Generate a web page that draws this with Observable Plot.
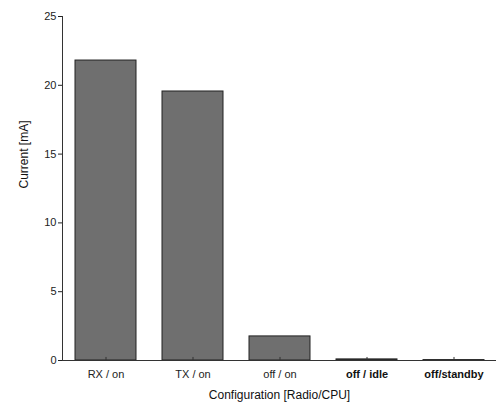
<!DOCTYPE html>
<html>
<head>
<meta charset="utf-8">
<script src="https://cdn.jsdelivr.net/npm/d3@7"></script>
<script src="https://cdn.jsdelivr.net/npm/@observablehq/plot@0.6"></script>
<style>
  body { margin: 0; background: #fff; }
  #chart svg { font-family: "Liberation Sans", Arial, Helvetica, sans-serif; }
</style>
</head>
<body>
<div id="chart"></div>
<script>
const categories = ["RX / on", "TX / on", "off / on", "off / idle", "off/standby"];
const currents = [21.8, 19.55, 1.75, 0.08, 0.03];
const yTicks = [0, 5, 10, 15, 20, 25];
const boldLabels = ["off / idle", "off/standby"];

const data = categories.map((c, i) => ({config: c, current: currents[i]}));
const normalLabels = categories.filter(c => !boldLabels.includes(c));

const plot = Plot.plot({
  width: 496,
  height: 405,
  marginLeft: 62,
  marginRight: 0,
  marginTop: 16,
  marginBottom: 45,
  style: {background: "#fff", color: "#222", fontSize: "11px"},
  x: {domain: categories, paddingInner: 0.3, paddingOuter: 0.12, label: null, axis: null},
  y: {domain: [0, 25], label: null, axis: null},
  marks: [
    Plot.barY(data, {x: "config", y: "current", fill: "#6f6f6f", stroke: "#222", strokeWidth: 1}),
    Plot.axisY({ticks: yTicks, tickSize: 4, tickPadding: 2, fontSize: 11, label: null}),
    Plot.ruleY([0], {stroke: "#333"}),
    Plot.ruleX(categories, {x: d => d, y1: 0, y2: 0.22, stroke: "#333"}),
    Plot.text(normalLabels, {x: d => d, y: 0, dy: 14, fontSize: 11, fill: "#222"}),
    Plot.text(boldLabels, {x: d => d, y: 0, dy: 14, fontSize: 11, fontWeight: "bold", fill: "#111"}),
    Plot.text(["Configuration [Radio/CPU]"], {frameAnchor: "bottom", dy: 38, fontSize: 12, fill: "#111"}),
    Plot.text(["Current [mA]"], {frameAnchor: "left", dx: -38, rotate: -90, fontSize: 12, fill: "#111"})
  ]
});

document.getElementById("chart").appendChild(plot);
d3.select(plot).append("line")
  .attr("x1", 62.5).attr("x2", 62.5)
  .attr("y1", 16).attr("y2", 360)
  .attr("stroke", "#333");
</script>
</body>
</html>
